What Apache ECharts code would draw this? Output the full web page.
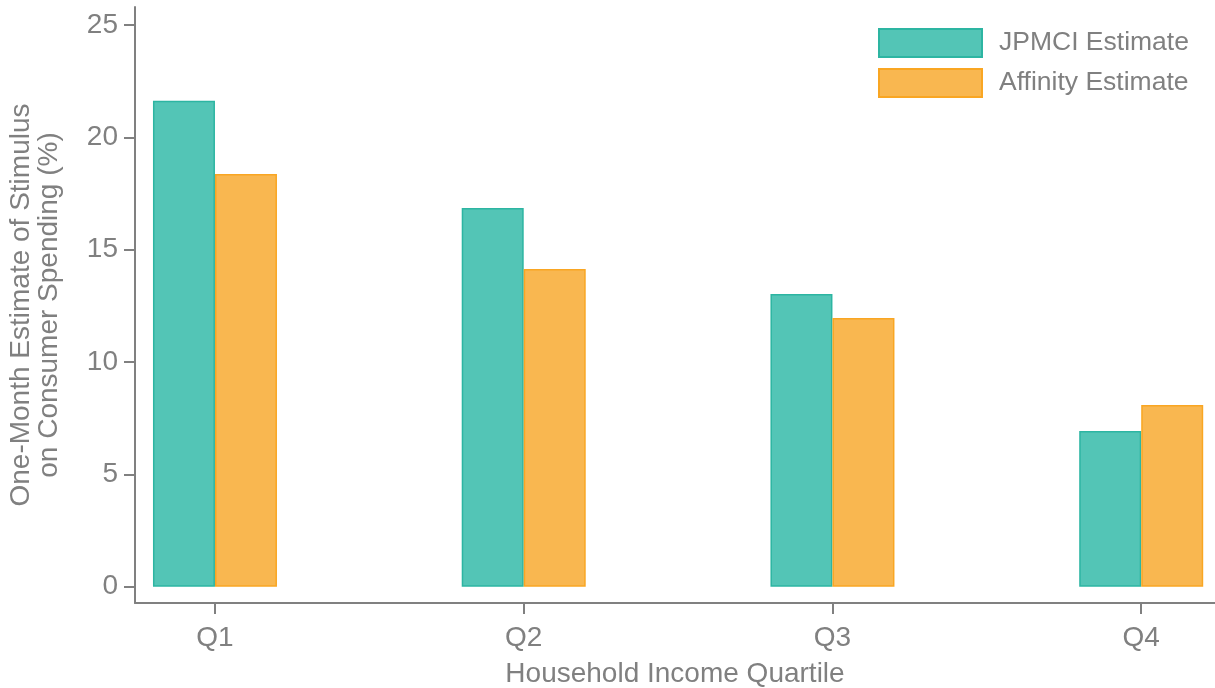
<!DOCTYPE html>
<html>
<head>
<meta charset="utf-8">
<script src="https://cdn.jsdelivr.net/npm/echarts@6/dist/echarts.min.js"></script>
<style>html,body{margin:0;padding:0;background:#fff}#c{width:1215px;height:688px}</style>
</head>
<body>
<div id="c"></div>
<script>
const categories = ['Q1', 'Q2', 'Q3', 'Q4'];
const jpmciValues = [21.63, 16.85, 13.03, 6.93];
const affinityValues = [18.37, 14.14, 11.96, 8.09];
const yTickValues = [0, 5, 10, 15, 20, 25];
const seriesNames = ['JPMCI Estimate', 'Affinity Estimate'];

const FONT = "'Liberation Sans', Arial, sans-serif";
const GRAY = '#808080';
const chart = echarts.init(document.getElementById('c'), null, {renderer: 'canvas'});
const idx = categories.map((_, i) => i);

chart.setOption({
  animation: false,
  backgroundColor: '#fff',
  textStyle: {fontFamily: FONT},
  grid: {left: 135, right: 0, top: 7, bottom: 85, containLabel: false, outerBoundsMode: 'none'},
  legend: {
    orient: 'vertical', left: 878, top: 28, padding: 0,
    itemWidth: 103, itemHeight: 28, itemGap: 10,
    icon: 'rect',
    textStyle: {fontSize: 26.5, color: GRAY, fontFamily: FONT, padding: [0, 0, 0, 12]},
    data: seriesNames
  },
  xAxis: {
    type: 'value', min: -0.259, max: 3.239,
    name: 'Household Income Quartile', nameLocation: 'middle', nameGap: 57,
    nameTextStyle: {fontSize: 28, color: GRAY, fontFamily: FONT},
    axisLine: {show: true, onZero: false, lineStyle: {color: GRAY, width: 2}},
    axisTick: {show: true, length: 11, lineStyle: {color: GRAY, width: 2}, customValues: idx},
    axisLabel: {show: true, fontSize: 28, color: GRAY, fontFamily: FONT, margin: 21,
      customValues: idx, formatter: v => categories[Math.round(v)]},
    splitLine: {show: false}
  },
  yAxis: {
    type: 'value', min: -0.725, max: 25.8,
    name: 'One-Month Estimate of Stimulus\non Consumer Spending (%)',
    nameLocation: 'middle', nameGap: 72, nameRotate: 90,
    nameTextStyle: {fontSize: 28, color: GRAY, fontFamily: FONT, lineHeight: 28, align: 'center'},
    axisLine: {show: true, onZero: false, lineStyle: {color: GRAY, width: 2}},
    axisTick: {show: true, length: 11, lineStyle: {color: GRAY, width: 2}, customValues: yTickValues},
    axisLabel: {show: true, fontSize: 28, color: GRAY, fontFamily: FONT, margin: 17, customValues: yTickValues},
    splitLine: {show: false}
  },
  series: [
    {
      name: seriesNames[0], type: 'bar', barWidth: 62, barGap: '0%',
      itemStyle: {color: '#53C5B6', borderColor: '#2DB5A2', borderWidth: 1.5},
      data: jpmciValues.map((v, i) => [i, v])
    },
    {
      name: seriesNames[1], type: 'bar', barWidth: 62, barGap: '0%',
      itemStyle: {color: '#F9B750', borderColor: '#F9A623', borderWidth: 1.5},
      data: affinityValues.map((v, i) => [i, v])
    }
  ]
});
</script>
</body>
</html>
